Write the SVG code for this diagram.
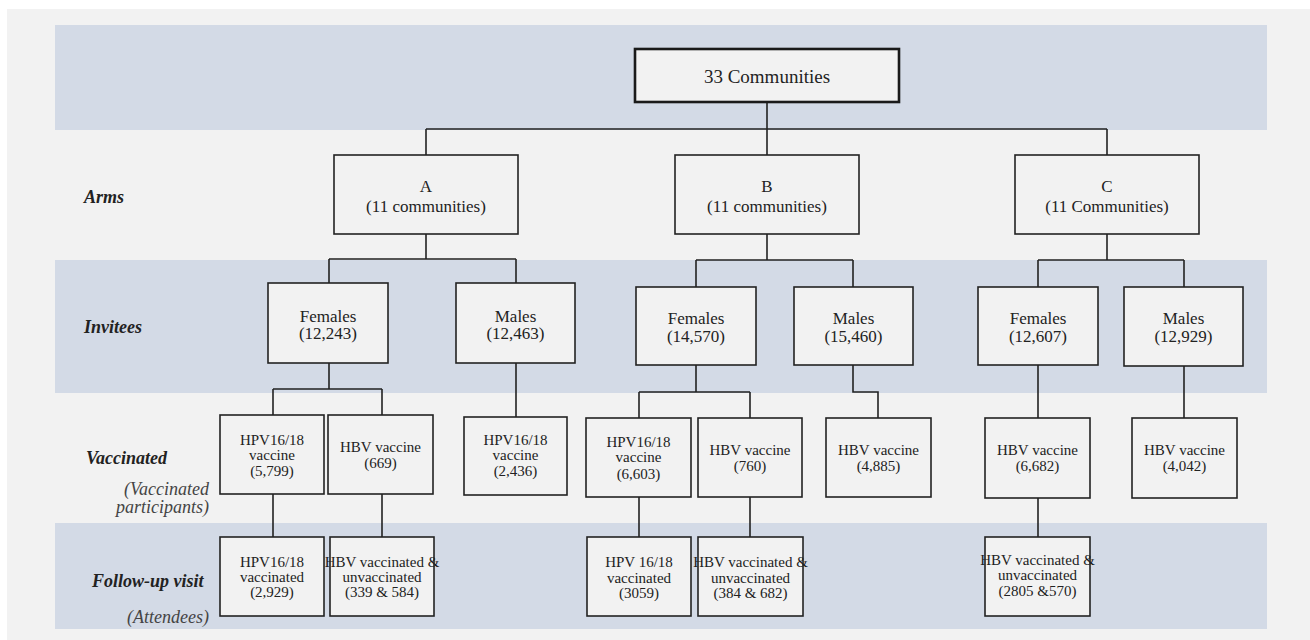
<svg xmlns="http://www.w3.org/2000/svg" width="1310" height="640" viewBox="0 0 1310 640" font-family="'Liberation Serif', 'DejaVu Serif', 'Times New Roman', Times, serif">
<style>
.band{fill:#d3dae6}
.box{fill:#f2f2f2;stroke:#222;stroke-width:1.6}
.top{fill:#f2f2f2;stroke:#1a1a1a;stroke-width:2.6}
.ln{fill:none;stroke:#222;stroke-width:1.6}
text{font-family:'Liberation Serif','DejaVu Serif','Times New Roman',Times,serif;fill:#222;text-anchor:middle}
.t19{font-size:19px}
.t17{font-size:17px}
.t15{font-size:15px}
.lab{font-size:18px;font-weight:bold;font-style:italic;text-anchor:start}
.sub{font-size:18px;font-style:italic;fill:#444;text-anchor:end}
</style>
<rect x="0" y="0" width="1310" height="640" fill="#ffffff"/>
<rect x="7" y="9" width="1303" height="631" fill="#f2f2f2"/>
<rect class="band" x="55" y="25" width="1212" height="105"/>
<rect class="band" x="55" y="260" width="1212" height="133"/>
<rect class="band" x="55" y="523" width="1212" height="106"/>

<g id="row-labels">
<text class="lab" x="84" y="203">Arms</text>
<text class="lab" x="84" y="333">Invitees</text>
<text class="lab" x="86" y="464">Vaccinated</text>
<text class="sub" x="209" y="495">(Vaccinated</text>
<text class="sub" x="209" y="513">participants)</text>
<text class="lab" x="92" y="587">Follow-up visit</text>
<text class="sub" x="209" y="623">(Attendees)</text>
</g>

<g id="connectors">
<path class="ln" d="M767,102V129M426,129H1107M426,129V155M767,129V155M1107,129V155"/>
<path class="ln" d="M426,234V259M329,259H516M329,259V283M516,259V283"/>
<path class="ln" d="M767,234V260M696,260H853M696,260V287M853,260V287"/>
<path class="ln" d="M1107,234V260M1038,260H1184M1038,260V287M1184,260V287"/>
<path class="ln" d="M329,363V389M273,389H382M273,389V415M382,389V415M516,363V417"/>
<path class="ln" d="M696,365V392M639,392H750M639,392V418M750,392V418M853,365V392H878V418"/>
<path class="ln" d="M1038,365V418M1184,366V418"/>
<path class="ln" d="M273,494V537M382,494V537M639,497V537M750,497V537M1038,498V537"/>
</g>

<g id="n-root">
<rect class="top" x="635" y="49" width="264" height="53"/>
<text class="t19" x="767" y="83">33 Communities</text>
</g>

<g id="n-armA">
<rect class="box" x="334" y="155" width="184" height="79"/>
<text class="t17" x="426" y="192">A</text>
<text class="t17" x="426" y="212">(11 communities)</text>
</g>
<g id="n-armB">
<rect class="box" x="675" y="155" width="184" height="79"/>
<text class="t17" x="767" y="192">B</text>
<text class="t17" x="767" y="212">(11 communities)</text>
</g>
<g id="n-armC">
<rect class="box" x="1015" y="155" width="184" height="79"/>
<text class="t17" x="1107" y="192">C</text>
<text class="t17" x="1107" y="212">(11 Communities)</text>
</g>

<g id="n-femA">
<rect class="box" x="268" y="283" width="120" height="80"/>
<text class="t17" x="328" y="322">Females</text>
<text class="t17" x="328" y="339">(12,243)</text>
</g>
<g id="n-maleA">
<rect class="box" x="456" y="283" width="119" height="80"/>
<text class="t17" x="515.5" y="322">Males</text>
<text class="t17" x="515.5" y="339">(12,463)</text>
</g>
<g id="n-femB">
<rect class="box" x="636" y="287" width="120" height="78"/>
<text class="t17" x="696" y="324">Females</text>
<text class="t17" x="696" y="342">(14,570)</text>
</g>
<g id="n-maleB">
<rect class="box" x="794" y="287" width="119" height="78"/>
<text class="t17" x="853.5" y="324">Males</text>
<text class="t17" x="853.5" y="342">(15,460)</text>
</g>
<g id="n-femC">
<rect class="box" x="978" y="287" width="120" height="78"/>
<text class="t17" x="1038" y="324">Females</text>
<text class="t17" x="1038" y="342">(12,607)</text>
</g>
<g id="n-maleC">
<rect class="box" x="1124" y="287" width="119" height="79"/>
<text class="t17" x="1183.5" y="324">Males</text>
<text class="t17" x="1183.5" y="342">(12,929)</text>
</g>

<g id="n-vacA-hpv">
<rect class="box" x="220" y="415" width="104" height="79"/>
<text class="t15" x="272" y="445">HPV16/18</text>
<text class="t15" x="272" y="460">vaccine</text>
<text class="t15" x="272" y="476">(5,799)</text>
</g>
<g id="n-vacA-hbv">
<rect class="box" x="328" y="415" width="105" height="79"/>
<text class="t15" x="380.5" y="452">HBV vaccine</text>
<text class="t15" x="380.5" y="468">(669)</text>
</g>
<g id="n-vacA-male">
<rect class="box" x="464" y="417" width="103" height="78"/>
<text class="t15" x="515.5" y="445">HPV16/18</text>
<text class="t15" x="515.5" y="460">vaccine</text>
<text class="t15" x="515.5" y="476">(2,436)</text>
</g>
<g id="n-vacB-hpv">
<rect class="box" x="586" y="418" width="105" height="79"/>
<text class="t15" x="638.5" y="447">HPV16/18</text>
<text class="t15" x="638.5" y="462">vaccine</text>
<text class="t15" x="638.5" y="479">(6,603)</text>
</g>
<g id="n-vacB-hbv">
<rect class="box" x="698" y="418" width="104" height="79"/>
<text class="t15" x="750" y="455">HBV vaccine</text>
<text class="t15" x="750" y="471">(760)</text>
</g>
<g id="n-vacB-male">
<rect class="box" x="826" y="418" width="105" height="79"/>
<text class="t15" x="878.5" y="455">HBV vaccine</text>
<text class="t15" x="878.5" y="471">(4,885)</text>
</g>
<g id="n-vacC-hbv">
<rect class="box" x="985" y="418" width="105" height="80"/>
<text class="t15" x="1037.5" y="455">HBV vaccine</text>
<text class="t15" x="1037.5" y="471">(6,682)</text>
</g>
<g id="n-vacC-male">
<rect class="box" x="1132" y="418" width="105" height="80"/>
<text class="t15" x="1184.5" y="455">HBV vaccine</text>
<text class="t15" x="1184.5" y="471">(4,042)</text>
</g>

<g id="n-fuA-hpv">
<rect class="box" x="220" y="537" width="104" height="79"/>
<text class="t15" x="272" y="567">HPV16/18</text>
<text class="t15" x="272" y="582">vaccinated</text>
<text class="t15" x="272" y="597">(2,929)</text>
</g>
<g id="n-fuA-hbv">
<rect class="box" x="330" y="537" width="104" height="79"/>
<text class="t15" x="382" y="567">HBV vaccinated &amp;</text>
<text class="t15" x="382" y="582">unvaccinated</text>
<text class="t15" x="382" y="597">(339 &amp; 584)</text>
</g>
<g id="n-fuB-hpv">
<rect class="box" x="587" y="537" width="104" height="79"/>
<text class="t15" x="639" y="567">HPV 16/18</text>
<text class="t15" x="639" y="583">vaccinated</text>
<text class="t15" x="639" y="598">(3059)</text>
</g>
<g id="n-fuB-hbv">
<rect class="box" x="698" y="537" width="105" height="79"/>
<text class="t15" x="750.5" y="567">HBV vaccinated &amp;</text>
<text class="t15" x="750.5" y="583">unvaccinated</text>
<text class="t15" x="750.5" y="598">(384 &amp; 682)</text>
</g>
<g id="n-fuC-hbv">
<rect class="box" x="985" y="537" width="105" height="79"/>
<text class="t15" x="1037.5" y="565">HBV vaccinated &amp;</text>
<text class="t15" x="1037.5" y="580">unvaccinated</text>
<text class="t15" x="1037.5" y="596">(2805 &amp;570)</text>
</g>
</svg>
